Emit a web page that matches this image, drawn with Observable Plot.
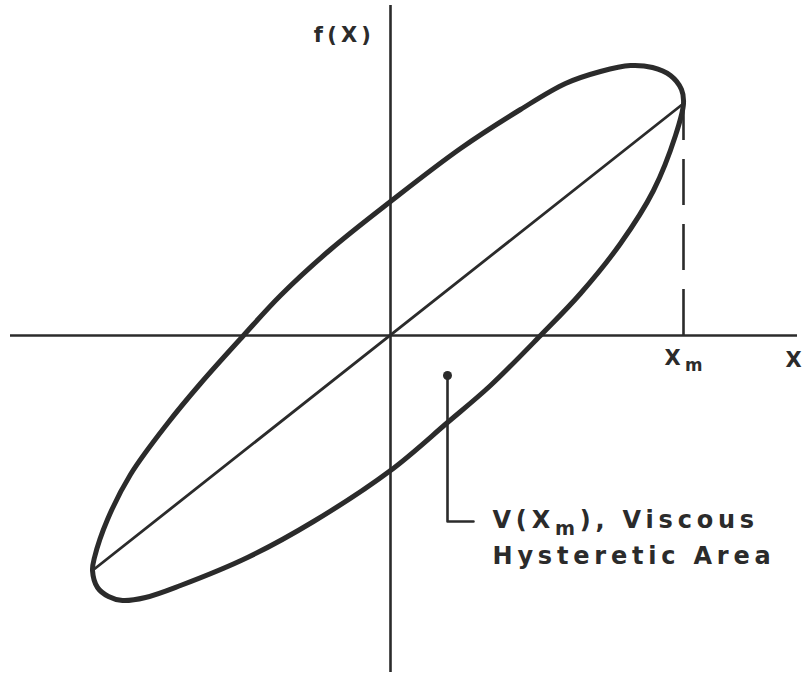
<!DOCTYPE html>
<html>
<head>
<meta charset="utf-8">
<script src="https://cdn.jsdelivr.net/npm/d3@7"></script>
<script src="https://cdn.jsdelivr.net/npm/@observablehq/plot@0.6"></script>
<style>
  html, body { margin: 0; padding: 0; background: #fff; }
  svg text { letter-spacing: 0.2em; }
  svg .plain text { letter-spacing: 0; }
</style>
</head>
<body>
<div id="chart"></div>
<script>
// Hysteresis loop (x, f(x)), origin at the axes crossing
const loopX = [293, 291, 280, 262, 240, 210, 175, 130, 70, 0, -60, -110, -147, -190, -223, -260, -283, -296, -298, -293, -282, -268, -245, -210, -143, -77, 0, 57, 100, 150, 190, 230, 263, 285];
const loopF = [232, 246, 260, 268, 270, 264, 252, 226, 187, 134, 86, 40, 0, -48, -88, -139, -184, -222, -235, -252, -261, -265, -262, -250, -222, -186, -135, -87, -50, 0, 42, 92, 145, 200];

// Secant line through the loop tips
const secantX = [-298, 293];
const secantF = [-235, 232];

// Amplitude Xm and f(Xm)
const xm = [293];
const fxm = [232];

// Axis extents
const xAxisExtent = [-380, 407];
const yAxisExtent = [-337, 330];

// Area pointer (dot and leader)
const pointerX = [57, 57, 83];
const pointerF = [-40, -186, -186];

// Labels
const labelText = ["f(X)", "X", "X_m", "V(X_m), Viscous", "Hysteretic Area"];
const labelX = [-46, 403, 274, 102, 102];
const labelF = [300, -25, -23, -185, -221];

const loop = loopX.map((x, i) => ({x, f: loopF[i]}));
const secant = secantX.map((x, i) => ({x, f: secantF[i]}));
const pointer = pointerX.map((x, i) => ({x, f: pointerF[i]}));
const labels = labelText.map((t, i) => ({t, x: labelX[i], f: labelF[i]}));

const ink = "#2b2b2b";
const font = "DejaVu Sans";

const chart = Plot.plot({
  width: 804,
  height: 677,
  margin: 0,
  style: {background: "#fff"},
  x: {domain: [-390, 414], axis: null},
  y: {domain: [-342, 335], axis: null},
  marks: [
    Plot.ruleY([0], {x1: xAxisExtent[0], x2: xAxisExtent[1], stroke: ink, strokeWidth: 2.6}),
    Plot.ruleX([0], {y1: yAxisExtent[0], y2: yAxisExtent[1], stroke: ink, strokeWidth: 2.6}),
    Plot.ruleX(xm, {x: d => d, y1: 0, y2: fxm[0], stroke: ink, strokeWidth: 2.6, strokeDasharray: "46,19"}),
    Plot.line(secant, {x: "x", y: "f", stroke: ink, strokeWidth: 2.8}),
    Plot.line(loop, {x: "x", y: "f", stroke: ink, strokeWidth: 5, curve: "catmull-rom-closed"}),
    Plot.line(pointer, {x: "x", y: "f", stroke: ink, strokeWidth: 2.6}),
    Plot.dot([pointer[0]], {x: "x", y: "f", r: 4.5, fill: ink, stroke: "none"}),
    Plot.text(labels.slice(0, 1), {x: "x", y: "f", text: "t", fill: ink, fontSize: 21, fontWeight: "bold", fontFamily: font, textAnchor: "middle", lineAnchor: "middle"}),
    Plot.text(labels.slice(1, 2), {x: "x", y: "f", text: "t", fill: ink, fontSize: 21, fontWeight: "bold", fontFamily: font, textAnchor: "middle", lineAnchor: "middle", className: "plain"}),
    Plot.text(labels.slice(2, 3), {x: "x", y: "f", text: "t", fill: ink, fontSize: 21, fontWeight: "bold", fontFamily: font, textAnchor: "start", lineAnchor: "middle"}),
    Plot.text(labels.slice(3), {x: "x", y: "f", text: "t", fill: ink, fontSize: 24, fontWeight: "bold", fontFamily: font, textAnchor: "start", lineAnchor: "middle"})
  ]
});

// Turn "_m" into a lowered subscript m
chart.querySelectorAll("text").forEach(t => {
  const s = t.textContent;
  if (!s.includes("_m")) return;
  const [a, b] = s.split("_m");
  t.textContent = "";
  const ns = "http://www.w3.org/2000/svg";
  const t1 = document.createElementNS(ns, "tspan"); t1.textContent = a; t.appendChild(t1);
  const t2 = document.createElementNS(ns, "tspan"); t2.textContent = "m";
  t2.setAttribute("dy", "0.35em"); t2.setAttribute("font-size", "80%"); t.appendChild(t2);
  if (b) {
    const t3 = document.createElementNS(ns, "tspan"); t3.textContent = b;
    t3.setAttribute("dy", "-0.28em"); t.appendChild(t3);
  }
});

document.getElementById("chart").appendChild(chart);
</script>
</body>
</html>
